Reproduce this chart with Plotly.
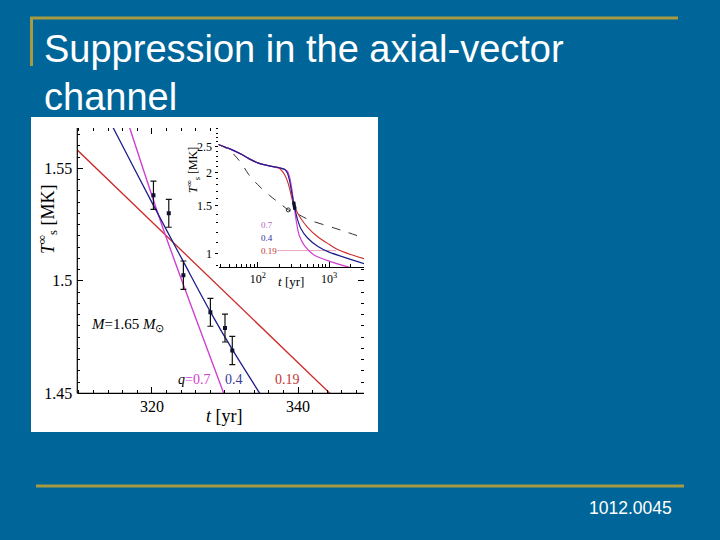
import plotly.graph_objects as go

# ---------------- data ----------------
# observed surface temperatures (Cas A)
obs_t = [320.2, 322.3, 324.3, 328.0, 330.0, 331.0]
obs_T = [1.538, 1.530, 1.5025, 1.486, 1.479, 1.469]
obs_err = [0.0063, 0.0062, 0.0063, 0.0062, 0.0062, 0.0063]

# main panel cooling curves
main_q019_t = [309.0, 327.0, 345.0]
main_q019_T = [1.5605, 1.5043, 1.4480]
main_q04_t = [313.5, 314.7, 320.2, 324.3, 328.0, 331.0, 334.7, 336.0]
main_q04_T = [1.5755, 1.5679, 1.5335, 1.5085, 1.4862, 1.4695, 1.4503, 1.4436]
main_q07_t = [315.8, 316.9, 321.6, 329.8, 331.0]
main_q07_T = [1.579, 1.5684, 1.5225, 1.4503, 1.440]

# inset cooling curves
ins_q019_t = [28, 40, 60, 80, 100, 150, 200, 220, 240, 260, 280, 295, 310, 330, 345,
              400, 500, 700, 1000, 1300, 2000, 3100]
ins_q019_T = [2.54, 2.45, 2.33, 2.23, 2.17, 2.11, 2.07, 2.02, 1.95, 1.86, 1.74, 1.64, 1.556,
              1.495, 1.448, 1.35, 1.25, 1.15, 1.08, 1.035, 0.99, 0.955]
ins_q04_t = [28, 40, 60, 80, 100, 150, 200, 240, 260, 280, 300, 314.7, 320.2, 328.0, 334.7,
             360, 400, 500, 700, 1000, 2000, 3100]
ins_q04_T = [2.54, 2.45, 2.33, 2.23, 2.17, 2.11, 2.08, 2.05, 1.99, 1.86, 1.68, 1.568, 1.5335,
             1.4862, 1.4503, 1.34, 1.24, 1.14, 1.06, 1.01, 0.95, 0.915]
ins_q07_t = [28, 40, 60, 80, 100, 150, 200, 240, 260, 280, 300, 316.9, 321.6, 329.8, 345,
             380, 450, 600, 1000, 2000, 3100]
ins_q07_T = [2.54, 2.45, 2.33, 2.23, 2.17, 2.11, 2.08, 2.05, 2.02, 1.92, 1.74, 1.568, 1.5225,
             1.4503, 1.33, 1.17, 1.07, 0.99, 0.935, 0.885, 0.86]
ins_nosup_t = [28, 40, 50, 62, 75, 100, 147, 200, 270, 345, 530, 1000, 1600, 3100]
ins_nosup_T = [2.54, 2.42, 2.28, 2.12, 1.96, 1.80, 1.64, 1.54, 1.45, 1.41, 1.33, 1.26, 1.21, 1.14]
ins_circle_t = [268]
ins_circle_T = [1.45]
ins_pointer_t = [190, 1250]
ins_pointer_T = [1.024, 1.024]

# ticks
main_x_ticks = [320, 340]
main_y_ticks = [1.45, 1.5, 1.55]
main_y_ticktext = ["1.45", "1.5", "1.55"]
ins_x_ticks = [100, 1000]
ins_x_ticktext = ["10<sup>2</sup>", "10<sup>3</sup>"]
ins_x_minor = [30, 40, 50, 60, 70, 80, 90, 200, 300, 400, 500, 600, 700, 800, 900, 2000, 3000]
ins_y_ticks = [1, 1.5, 2, 2.5]
ins_y_ticktext = ["1", "1.5", "2", "2.5"]
ins_y_minor = [0.9, 1.1, 1.2, 1.3, 1.4, 1.6, 1.7, 1.8, 1.9, 2.1, 2.2, 2.3, 2.4, 2.6, 2.7, 2.8, 2.9]

# ---------------- style ----------------
BG = "#006699"
GOLD = "#A69A42"
RED = "#CC2A2A"
BLUE = "#1E1E8C"
MAG = "#D040D0"
SERIF = "Liberation Serif"
SANS = "Liberation Sans"
W, H = 720, 549      # layout size (the captured page is fitted to 720x540)
REF_H = 540


def px(x):
    return x / W


def py(y):
    return 1 - y / REF_H


fig = go.Figure()

# main panel
fig.add_trace(go.Scatter(x=main_q019_t, y=main_q019_T, mode="lines",
                         line=dict(color=RED, width=1.3), xaxis="x", yaxis="y"))
fig.add_trace(go.Scatter(x=main_q07_t, y=main_q07_T, mode="lines", line_shape="spline",
                         line=dict(color=MAG, width=1.4), xaxis="x", yaxis="y"))
fig.add_trace(go.Scatter(x=main_q04_t, y=main_q04_T, mode="lines", line_shape="spline",
                         line=dict(color=BLUE, width=1.3), xaxis="x", yaxis="y"))
fig.add_trace(go.Scatter(x=obs_t, y=obs_T, mode="markers",
                         marker=dict(symbol="square", size=4, color="#101030"),
                         error_y=dict(type="data", array=obs_err, color="#111111",
                                      thickness=1.2, width=3),
                         xaxis="x", yaxis="y"))

# inset
fig.add_trace(go.Scatter(x=ins_nosup_t, y=ins_nosup_T, mode="lines", line_shape="spline",
                         line=dict(color="#333333", width=1, dash="dash"),
                         xaxis="x2", yaxis="y2"))
fig.add_trace(go.Scatter(x=ins_circle_t, y=ins_circle_T, mode="markers",
                         marker=dict(symbol="circle-open", size=4, color="#333333"),
                         xaxis="x2", yaxis="y2"))
fig.add_trace(go.Scatter(x=ins_pointer_t, y=ins_pointer_T, mode="lines",
                         line=dict(color="#EBA8C0", width=1), xaxis="x2", yaxis="y2"))
fig.add_trace(go.Scatter(x=ins_q019_t, y=ins_q019_T, mode="lines", line_shape="spline",
                         line=dict(color=RED, width=1.1, smoothing=0.6),
                         xaxis="x2", yaxis="y2"))
fig.add_trace(go.Scatter(x=ins_q07_t, y=ins_q07_T, mode="lines", line_shape="spline",
                         line=dict(color=MAG, width=1.2, smoothing=0.6),
                         xaxis="x2", yaxis="y2"))
fig.add_trace(go.Scatter(x=ins_q04_t, y=ins_q04_T, mode="lines", line_shape="spline",
                         line=dict(color=BLUE, width=1.2, smoothing=0.6),
                         xaxis="x2", yaxis="y2"))
fig.add_trace(go.Scatter(x=obs_t, y=obs_T, mode="markers",
                         marker=dict(symbol="square", size=3, color="#101030"),
                         error_y=dict(type="data", array=obs_err, color="#111111",
                                      thickness=1, width=1),
                         xaxis="x2", yaxis="y2"))

main_dom_x = [px(77.3), px(364)]
main_dom_y = [py(393.3), py(128)]
ins_dom_x = [px(218.5), px(364)]
ins_dom_y = [py(267.3), py(128)]

tickfont_main = dict(family=SERIF, size=16, color="black")
tickfont_ins = dict(family=SERIF, size=12, color="black")

fig.update_layout(
    width=W, height=H,
    margin=dict(l=0, r=0, t=0, b=0),
    paper_bgcolor=BG,
    plot_bgcolor="white",
    showlegend=False,
    xaxis=dict(domain=main_dom_x, anchor="y", range=[309.77, 349.04],
               tickvals=main_x_ticks, ticks="inside", ticklen=6, tickcolor="black",
               mirror="ticks", showline=False, showgrid=False, zeroline=False,
               tickfont=tickfont_main, ticklabelstandoff=2,
               minor=dict(dtick=2, tick0=0, ticks="inside", ticklen=3, tickcolor="black",
                          showgrid=False)),
    yaxis=dict(domain=main_dom_y, anchor="x", range=[1.45, 1.5679],
               tickvals=main_y_ticks, ticktext=main_y_ticktext, ticks="inside", ticklen=6,
               tickcolor="black", mirror="ticks", showline=False, showgrid=False,
               zeroline=False, tickfont=tickfont_main, ticklabelstandoff=4,
               minor=dict(dtick=0.005, tick0=0, ticks="inside", ticklen=3,
                          tickcolor="black", showgrid=False)),
    xaxis2=dict(domain=ins_dom_x, anchor="y2", type="log", range=[1.45, 3.49],
                tickvals=ins_x_ticks, ticktext=ins_x_ticktext, ticks="inside", ticklen=5,
                tickcolor="black", showline=True, linecolor="black", linewidth=1,
                showgrid=False, zeroline=False, tickfont=tickfont_ins, ticklabelstandoff=0,
                minor=dict(tickvals=ins_x_minor, ticks="inside", ticklen=3,
                           tickcolor="black", showgrid=False)),
    yaxis2=dict(domain=ins_dom_y, anchor="x2", type="log", range=[-0.052, 0.466],
                tickvals=ins_y_ticks, ticktext=ins_y_ticktext, ticks="outside", ticklen=3,
                tickcolor="black", showline=False, showgrid=False, zeroline=False,
                tickfont=tickfont_ins, ticklabelstandoff=0,
                minor=dict(tickvals=ins_y_minor, ticks="outside", ticklen=2,
                           tickcolor="black", showgrid=False)),
)

shapes = [
    # white picture panel
    dict(type="rect", xref="paper", yref="paper", x0=px(31), x1=px(378), y0=py(432), y1=py(117),
         fillcolor="white", line=dict(width=0), layer="below"),
    # main axis lines (left, bottom)
    dict(type="line", xref="x domain", yref="y domain", x0=0, x1=0, y0=0, y1=1,
         line=dict(color="black", width=1.2)),
    dict(type="line", xref="x domain", yref="y domain", x0=0, x1=1, y0=0, y1=0,
         line=dict(color="black", width=1.2)),
    # slide decoration
    dict(type="line", xref="paper", yref="paper", x0=px(30), x1=px(678), y0=py(18), y1=py(18),
         line=dict(color=GOLD, width=3)),
    dict(type="line", xref="paper", yref="paper", x0=px(31.5), x1=px(31.5), y0=py(17), y1=py(66),
         line=dict(color=GOLD, width=3)),
    dict(type="line", xref="paper", yref="paper", x0=px(36), x1=px(684), y0=py(486), y1=py(486),
         line=dict(color=GOLD, width=3)),
]
fig.update_layout(shapes=shapes)

ann = []


def add_ann(text, x, y, size, color="black", family=SERIF, xanchor="center", angle=0):
    ann.append(dict(text=text, x=px(x), y=py(y), xref="paper", yref="paper",
                    showarrow=False, xanchor=xanchor, yanchor="middle", textangle=angle,
                    font=dict(family=family, size=size, color=color)))


# slide title and footer
add_ann("Suppression in the axial-vector", 42, 49, 38, "white", SANS, "left")
add_ann("channel", 42, 97, 38, "white", SANS, "left")
add_ann("1012.0045", 674, 508, 17.5, "white", SANS, "right")

# main axis titles
add_ann("<i>t</i> [yr]", 224, 416, 18)
add_ann("<i>T</i><sup>∞</sup><sub>s</sub> [MK]", 47, 220, 18, angle=-90)
add_ann("<i>M</i>=1.65 <i>M</i><sub>⊙</sub>", 89, 325, 15, xanchor="left")
add_ann("<i>q</i><span style='color:%s'>=0.7</span>" % MAG, 194, 379, 14)
add_ann("0.4", 234, 379, 14, "#3A3AA0")
add_ann("0.19", 287, 379, 14, "#C03535")

# inset titles and labels
add_ann("<i>t</i> [yr]", 291, 281, 13)
add_ann("<i>T</i><sup>∞</sup><sub>s</sub> [MK]", 193, 170, 12, angle=-90)
add_ann("0.7", 259, 225, 9, "#C060D0", xanchor="left")
add_ann("0.4", 259, 238, 9, "#3030A0", xanchor="left")
add_ann("0.19", 259, 251, 9, "#C03535", xanchor="left")

fig.update_layout(annotations=ann)

fig.write_html(
    "out.html",
    config={"displayModeBar": False},
    post_script=("document.body.style.margin='0px';"
                 "document.body.style.background='%s';"
                 "document.documentElement.style.background='%s';" % (BG, BG)),
)
